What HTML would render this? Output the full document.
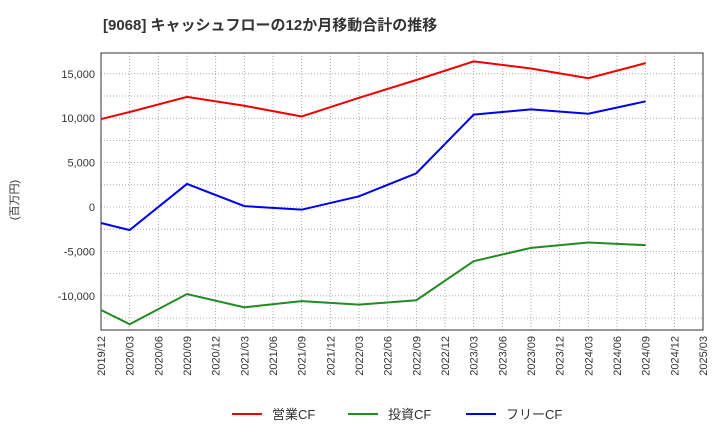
<!DOCTYPE html>
<html><head><meta charset="utf-8"><style>
body{margin:0;background:#fff;font-family:"Liberation Sans","Noto Sans CJK JP",sans-serif;}
</style></head><body>
<svg id="c" width="720" height="440" xmlns="http://www.w3.org/2000/svg">
<text x="103" y="30" font-size="15" font-weight="bold" fill="#333">[9068]  キャッシュフローの12か月移動合計の推移</text>
<text transform="translate(18,200) rotate(-90)" font-size="11" fill="#333" text-anchor="middle">(百万円)</text>
<g id="grid"></g><g id="axes"></g><g id="series"></g>
<g>
<line x1="232" y1="414" x2="262" y2="414" stroke="#e00" stroke-width="2"/><text x="272" y="419" font-size="13" fill="#333">営業CF</text>
<line x1="348" y1="414" x2="378" y2="414" stroke="#228b22" stroke-width="2"/><text x="388" y="419" font-size="13" fill="#333">投資CF</text>
<line x1="466" y1="414" x2="496" y2="414" stroke="#00e" stroke-width="2"/><text x="506" y="419" font-size="13" fill="#333">フリーCF</text>
</g>
</svg>
<script>
const categories=["2019/12","2020/03","2020/06","2020/09","2020/12","2021/03","2021/06","2021/09","2021/12","2022/03","2022/06","2022/09","2022/12","2023/03","2023/06","2023/09","2023/12","2024/03","2024/06","2024/09","2024/12","2025/03"];
const yTicks=[-10000,-5000,0,5000,10000,15000];
const operatingIdx=[0,1,3,5,7,9,11,13,15,17,19];
const operatingCF=[9900,10700,12400,11400,10200,12300,14300,16400,15600,14500,16200];
const investingCF=[-11600,-13200,-9800,-11300,-10600,-11000,-10500,-6100,-4600,-4000,-4300];
const freeCF=[-1800,-2600,2600,100,-300,1200,3800,10400,11000,10500,11900];
const L=101,R=703,T=53,B=330;
const x=i=>L+i*(R-L)/(categories.length-1);
const y=v=>207-v*44.4/5000;
const ns="http://www.w3.org/2000/svg";
function mk(p,t,a){const e=document.createElementNS(ns,t);for(const k in a)e.setAttribute(k,a[k]);p.appendChild(e);return e;}
const g=document.getElementById('grid'),ax=document.getElementById('axes'),s=document.getElementById('series');
for(let i=0;i<categories.length;i++){
 const l=mk(g,'line',{x1:x(i),x2:x(i),y1:T,y2:B,stroke:'#999','stroke-dasharray':'1,2','stroke-width':0.8});
 
 
 const t=mk(ax,'text',{transform:`translate(${x(i)+4},${B+6}) rotate(-90)`,'font-size':11,fill:'#333','text-anchor':'end'});
 t.textContent=categories[i];
 
 
}
for(let v=-12500;v<=17500;v+=2500){const yy=y(v);if(yy<T||yy>B)continue;
 const l=mk(g,'line',{x1:L,x2:R,y1:yy,y2:yy,stroke:'#999','stroke-dasharray':'1,2','stroke-width':0.8});
 
 }
yTicks.forEach(v=>{const t=mk(ax,'text',{x:L-6,y:y(v)+4,'font-size':11,fill:'#333','text-anchor':'end'});
 t.textContent=v.toLocaleString('en-US');
 
 });
const fr=mk(ax,'rect',{x:L,y:T,width:R-L,height:B-T,fill:'none',stroke:'#333','stroke-width':1});


function line(vals,idx,color,name){const pts=vals.map((v,k)=>x(idx[k])+','+y(v)).join(' ');
 const p=mk(s,'polyline',{points:pts,fill:'none',stroke:color,'stroke-width':2});
 
 }
const semi=[0,1,3,5,7,9,11,13,15,17,19];
line(operatingCF,operatingIdx,'#e00','operating-cf-line');
line(investingCF,semi,'#228b22','investing-cf-line');
line(freeCF,semi,'#00e','free-cf-line');
</script>
</body></html>
